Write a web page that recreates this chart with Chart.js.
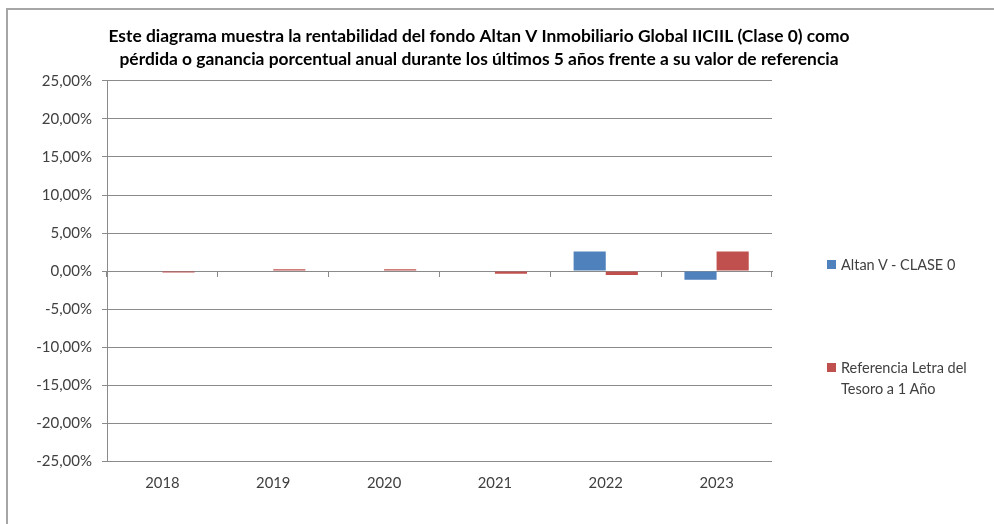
<!DOCTYPE html>
<html>
<head>
<meta charset="utf-8">
<script src="https://cdn.jsdelivr.net/npm/chart.js@4.4.1/dist/chart.umd.min.js"></script>
<style>
  html, body { margin: 0; padding: 0; background: #fff; }
  #wrap { position: relative; width: 994px; height: 524px; overflow: hidden; }
  #frame { position: absolute; left: 6px; top: 8px; width: 1100px; height: 600px;
           border-left: 2px solid #a6a6a6; border-top: 2px solid #a6a6a6; }
  #chart { position: absolute; left: 0; top: 0; }
  .lg-item { position: absolute; left: 827px; width: 150px; font: 14.5px Lato, sans-serif;
             color: #404040; line-height: 21px; padding-left: 14px; }
  .lg-box { position: absolute; left: 0; top: 6px; width: 9px; height: 9px; }
</style>
</head>
<body>
<div id="wrap">
  <div id="frame"></div>
  <canvas id="chart" width="958" height="524" style="width:958px;height:524px"></canvas>
  <div id="legend"></div>
</div>
<script>
const years = ["2018", "2019", "2020", "2021", "2022", "2023"];
const fondo = [null, null, null, null, 2.59, -1.13];
const referencia = [-0.2, 0.25, 0.25, -0.35, -0.53, 2.59];
const seriesNames = ["Altan V - CLASE 0", "Referencia Letra del Tesoro a 1 Año"];
const seriesColors = ["#4f81bd", "#c0504d"];
const titleLines = [
  "Este diagrama muestra la rentabilidad del fondo Altan V Inmobiliario Global IICIIL (Clase 0) como",
  "pérdida o ganancia porcentual anual durante los últimos 5 años frente a su valor de referencia",
];

const gridColor = "#8a8a8a";
const textColor = "#404040";
Chart.defaults.font.family = "Lato, sans-serif";
Chart.defaults.color = textColor;

const pct = (v) => v.toFixed(2).replace(".", ",") + "%";

const chart = new Chart(document.getElementById("chart"), {
  type: "bar",
  data: {
    labels: years,
    datasets: [
      { label: seriesNames[0], data: fondo, backgroundColor: seriesColors[0] },
      { label: seriesNames[1], data: referencia, backgroundColor: seriesColors[1] },
    ],
  },
  options: {
    responsive: false,
    animation: false,
    layout: { padding: { top: 0, bottom: 19, left: 0, right: 0 } },
    datasets: { bar: { categoryPercentage: 0.58, barPercentage: 1, borderWidth: 0 } },
    plugins: {
      legend: { display: false },
      tooltip: { enabled: false },
      title: {
        display: true,
        text: titleLines,
        color: "#000",
        font: { size: 17.4, weight: "bold", lineHeight: 1.32 },
        padding: { top: 25, bottom: 10 },
      },
    },
    scales: {
      x: {
        grid: { display: false, drawTicks: false },
        border: { display: false },
        ticks: { padding: 13, font: { size: 14.8 } },
      },
      // tick marks on the zero line, labels stay at the bottom
      xZero: {
        type: "category",
        labels: years,
        position: { y: 0 },
        offset: true,
        grid: { drawOnChartArea: false, offset: true, tickLength: 5, color: gridColor },
        border: { color: gridColor },
        ticks: { display: false },
      },
      y: {
        min: -25,
        max: 25,
        ticks: { stepSize: 5, callback: pct, padding: 10, font: { size: 15 } },
        grid: { color: gridColor, tickLength: 5 },
        border: { color: gridColor },
        afterFit: (s) => { s.width = 107; },
      },
      // empty space on the right for the legend
      ySpace: {
        position: "right",
        display: true,
        grid: { drawOnChartArea: false, drawTicks: false },
        border: { display: false },
        ticks: { display: false },
        afterFit: (s) => { s.width = 186; },
      },
    },
  },
});

// legend drawn beside the plot, as in the spreadsheet
const legendTops = [254, 357];
const legend = document.getElementById("legend");
chart.data.datasets.forEach((ds, i) => {
  const item = document.createElement("div");
  item.className = "lg-item";
  item.style.top = legendTops[i] + "px";
  const box = document.createElement("span");
  box.className = "lg-box";
  box.style.background = ds.backgroundColor;
  item.appendChild(box);
  item.appendChild(document.createTextNode(ds.label));
  legend.appendChild(item);
});
</script>
</body>
</html>
